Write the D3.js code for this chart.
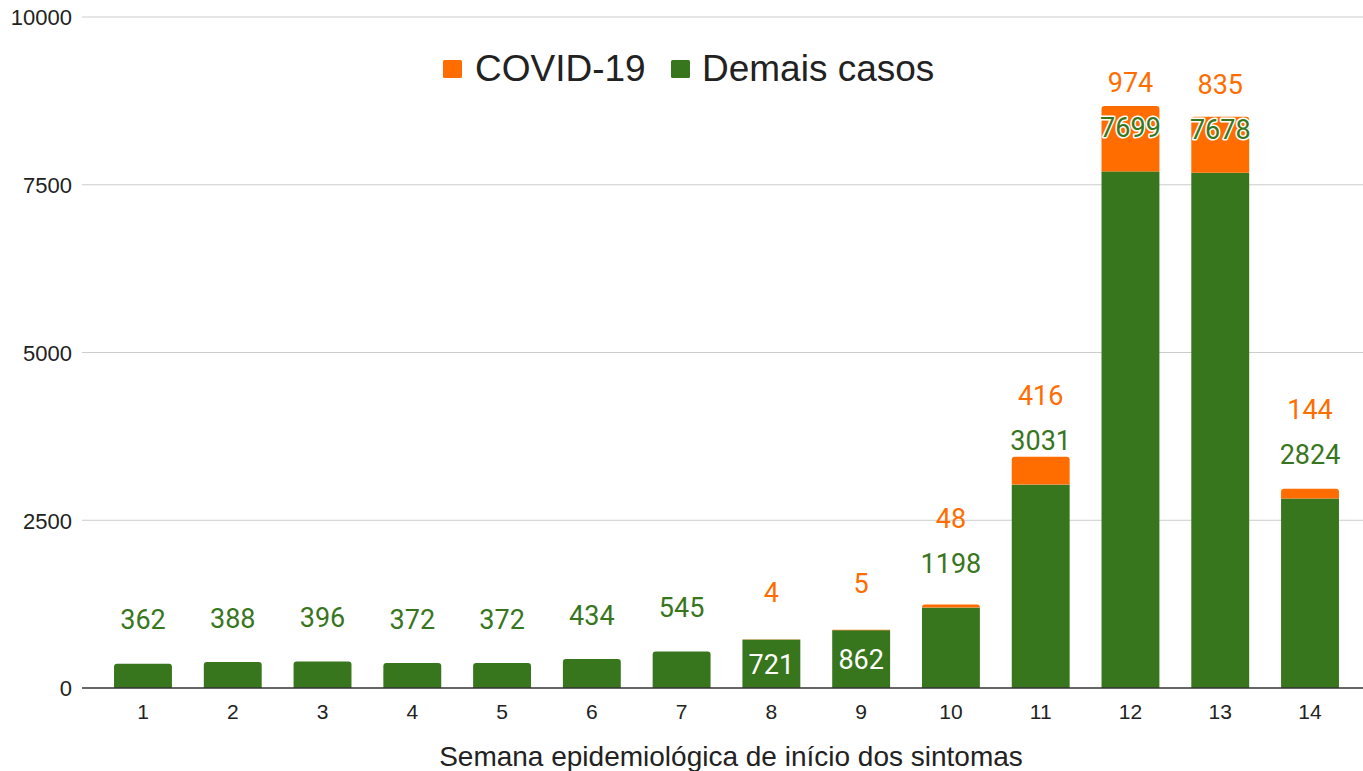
<!DOCTYPE html>
<html>
<head>
<meta charset="utf-8">
<script src="https://cdn.jsdelivr.net/npm/d3@7"></script>
<style>
  body { margin: 0; background: #fff; }
  svg { display: block; }
</style>
</head>
<body>
<svg id="chart" width="1363" height="771"></svg>
<script>
var weeks = ["1","2","3","4","5","6","7","8","9","10","11","12","13","14"];
var demais = [362, 388, 396, 372, 372, 434, 545, 721, 862, 1198, 3031, 7699, 7678, 2824];
var covid = [0, 0, 0, 0, 0, 0, 0, 4, 5, 48, 416, 974, 835, 144];
var yTicks = [0, 2500, 5000, 7500, 10000];
var insideWeeks = ["8", "9"]; // these show the green number inside the bar

var green = "#38761d", orange = "#ff6d01";
var svg = d3.select("#chart");

var rows = weeks.map(function(w, i) {
  return { week: w, demais: demais[i], covid: covid[i] };
});

var x = d3.scaleBand()
  .domain(weeks)
  .range([98.1, 1354.9])
  .paddingInner(0.355)
  .paddingOuter(0.1775);

var y = d3.scaleLinear().domain([0, 10000]).range([688, 17]);

// gridlines
svg.append("g").selectAll("line")
  .data(yTicks.filter(function(t) { return t > 0; }))
  .enter().append("line")
  .attr("x1", 82).attr("x2", 1363)
  .attr("y1", function(d) { return y(d); })
  .attr("y2", function(d) { return y(d); })
  .attr("stroke", "#cccccc").attr("stroke-width", 1);

// y labels
var yAxis = d3.axisLeft(y).tickValues(yTicks).tickSize(0).tickPadding(10).tickFormat(d3.format("d"));
var yg = svg.append("g").attr("transform", "translate(82,0)").call(yAxis);
yg.select(".domain").remove();
yg.selectAll("text")
  .attr("font-family", "Liberation Sans, Arial, sans-serif")
  .attr("font-size", 22).attr("fill", "#222").attr("dy", "0.36em");

// stacked bars
function topRounded(x0, y0, w, h, r) {
  r = Math.min(r, h);
  return "M" + x0 + "," + (y0 + h) + "V" + (y0 + r) + "Q" + x0 + "," + y0 + " " + (x0 + r) + "," + y0 +
    "H" + (x0 + w - r) + "Q" + (x0 + w) + "," + y0 + " " + (x0 + w) + "," + (y0 + r) + "V" + (y0 + h) + "Z";
}

var bars = svg.append("g");
rows.forEach(function(d) {
  var bx = x(d.week), bw = x.bandwidth();
  var gTop = y(d.demais);
  if (d.covid > 0) {
    bars.append("rect").attr("x", bx).attr("width", bw)
      .attr("y", gTop).attr("height", y(0) - gTop).attr("fill", green);
    var tTop = y(d.demais + d.covid);
    bars.append("path").attr("d", topRounded(bx, tTop, bw, gTop - tTop, 3)).attr("fill", orange);
  } else {
    bars.append("path").attr("d", topRounded(bx, gTop, bw, y(0) - gTop, 3)).attr("fill", green);
  }
});

// baseline
svg.append("line").attr("x1", 82).attr("x2", 1363)
  .attr("y1", y(0)).attr("y2", y(0))
  .attr("stroke", "#333").attr("stroke-width", 1.5);

// x labels
var xAxis = d3.axisBottom(x).tickSize(0).tickPadding(16);
var xg = svg.append("g").attr("transform", "translate(0," + y(0) + ")").call(xAxis);
xg.select(".domain").remove();
xg.selectAll("text")
  .attr("font-family", "Liberation Sans, Arial, sans-serif")
  .attr("font-size", 21).attr("fill", "#222");

// value labels
var labels = svg.append("g")
  .attr("font-family", "Roboto, sans-serif")
  .attr("font-size", 27)
  .attr("text-anchor", "middle");

rows.forEach(function(d) {
  var cx = x(d.week) + x.bandwidth() / 2;
  var gTop = y(d.demais);
  var inside = insideWeeks.indexOf(d.week) >= 0;
  var gy, oy;
  if (inside) {
    gy = (gTop + y(0)) / 2;
    oy = y(d.demais + d.covid) - 47;
    labels.append("text").attr("x", cx).attr("y", gy).attr("dy", "0.36em")
      .attr("fill", "#fff").text(d.demais);
  } else {
    gy = gTop - 44;
    oy = gy - 45;
    labels.append("text").attr("x", cx).attr("y", gy).attr("dy", "0.36em")
      .attr("fill", green).attr("stroke", "#fff").attr("stroke-width", 3)
      .attr("paint-order", "stroke").attr("stroke-linejoin", "round")
      .text(d.demais);
  }
  if (d.covid > 0) {
    labels.append("text").attr("x", cx).attr("y", oy).attr("dy", "0.36em")
      .attr("fill", orange).text(d.covid);
  }
});

// legend
var legend = svg.append("g").attr("font-family", "Liberation Sans, Arial, sans-serif").attr("font-size", 37);
legend.append("rect").attr("x", 443).attr("y", 60).attr("width", 19).attr("height", 18).attr("rx", 1.5).attr("fill", orange);
legend.append("text").attr("x", 475).attr("y", 81).attr("fill", "#222").text("COVID-19");
legend.append("rect").attr("x", 671).attr("y", 60).attr("width", 19).attr("height", 18).attr("rx", 1.5).attr("fill", green);
legend.append("text").attr("x", 702).attr("y", 81).attr("fill", "#222").text("Demais casos");

// axis title
svg.append("text")
  .attr("x", 731).attr("y", 766)
  .attr("text-anchor", "middle")
  .attr("font-family", "Liberation Sans, Arial, sans-serif")
  .attr("font-size", 28).attr("fill", "#222")
  .text("Semana epidemiológica de início dos sintomas");
</script>
</body>
</html>
